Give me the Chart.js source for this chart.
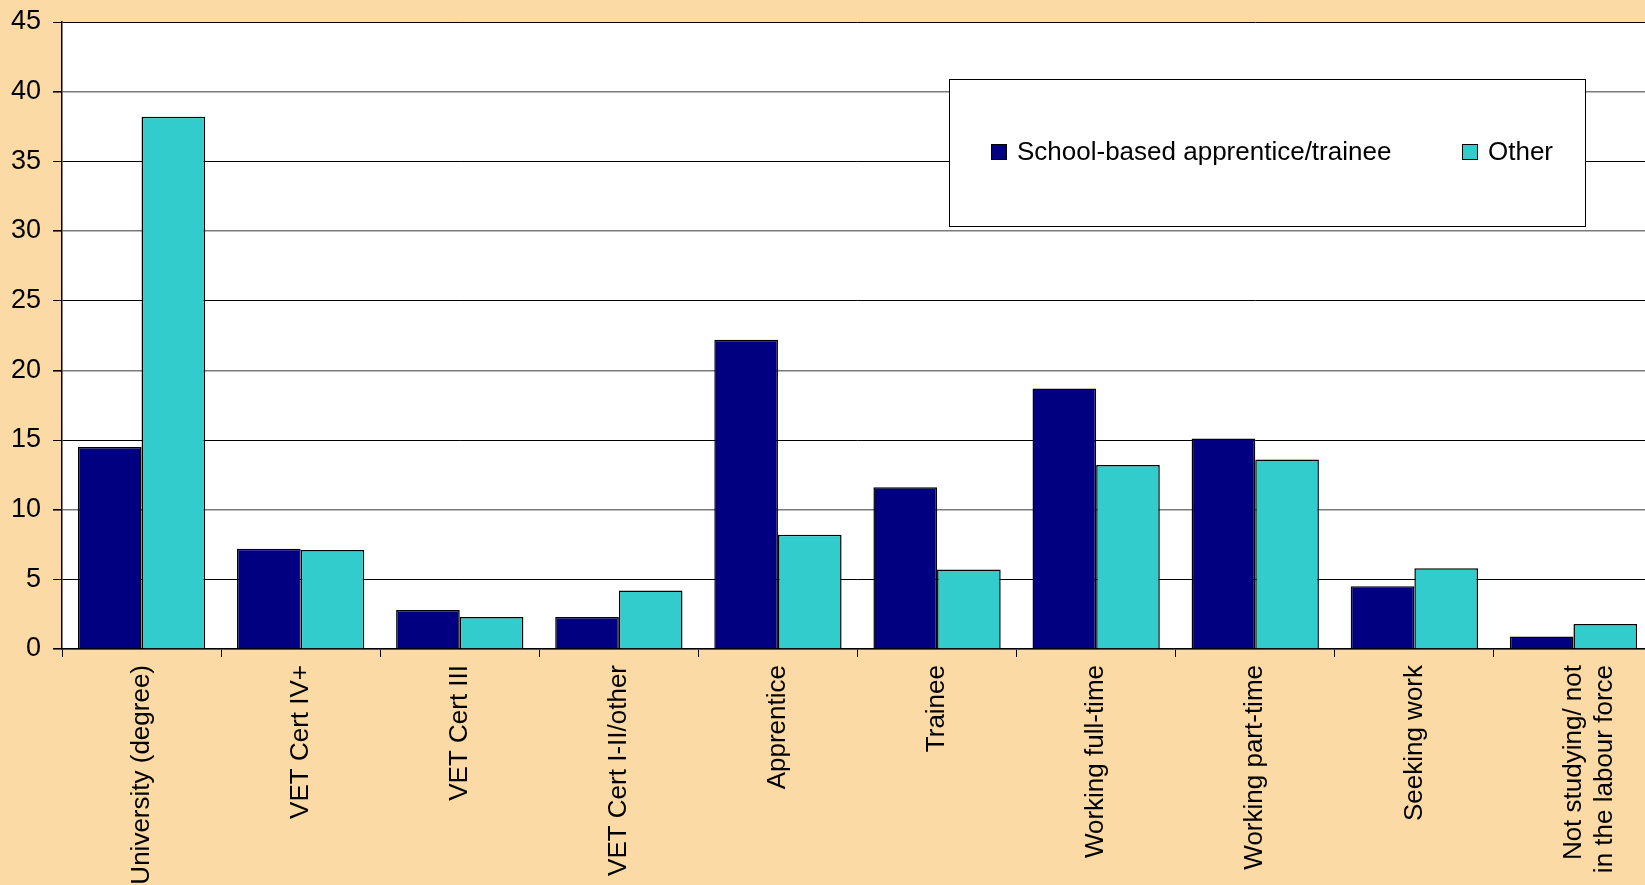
<!DOCTYPE html>
<html>
<head>
<meta charset="utf-8">
<script src="https://cdn.jsdelivr.net/npm/chart.js@4"></script>
<style>
  html, body { margin: 0; padding: 0; overflow: hidden; background: #FCDAA6; }
  #wrap { width: 1660px; height: 885px; }
</style>
</head>
<body>
<div id="wrap"><canvas id="chartCanvas" width="1660" height="885"></canvas></div>
<script>
var categorias = [
  "University (degree)", "VET Cert IV+", "VET Cert III", "VET Cert I-II/other",
  "Apprentice", "Trainee", "Working full-time", "Working part-time",
  "Seeking work", ["Not studying/ not", "in the labour force"]
];
var escuela = [14.5, 7.2, 2.8, 2.3, 22.2, 11.6, 18.7, 15.1, 4.5, 0.9];
var otros = [38.2, 7.1, 2.3, 4.2, 8.2, 5.7, 13.2, 13.6, 5.8, 1.8];
var nombresSeries = ["School-based apprentice/trainee", "Other"];
var ticksY = [0, 5, 10, 15, 20, 25, 30, 35, 40, 45];

var fuente = "'Liberation Sans', Arial, sans-serif";

// leyenda dentro del area, caja blanca con borde
var leyendaCaja = {
  id: "leyendaCaja",
  afterDatasetsDraw: function(chart) {
    var c = chart.ctx;
    c.save();
    c.fillStyle = "#fff";
    c.fillRect(949, 79, 636, 147);
    c.strokeStyle = "#000";
    c.lineWidth = 1;
    c.strokeRect(949.5, 79.5, 636, 147);
    c.font = "26px " + fuente;
    c.textBaseline = "middle";
    c.fillStyle = "#000";
    var posX = [991, 1462];
    chart.data.datasets.forEach(function(ds, i) {
      var x = posX[i];
      c.fillStyle = ds.backgroundColor;
      c.fillRect(x, 144, 16, 16);
      c.strokeStyle = "#000";
      c.strokeRect(x + 0.5, 144.5, 15, 15);
      c.fillStyle = "#000";
      c.fillText(ds.label, x + 26, 153);
    });
    c.restore();
  }
};

var fondoArea = {
  id: "fondoArea",
  beforeDraw: function(chart) {
    var a = chart.chartArea;
    var c = chart.ctx;
    c.save();
    c.fillStyle = "#fff";
    c.fillRect(a.left, a.top, a.right - a.left, a.bottom - a.top);
    c.restore();
  }
};

var ctx = document.getElementById("chartCanvas").getContext("2d");
var myChart = new Chart(ctx, {
  type: "bar",
  data: {
    labels: categorias,
    datasets: [
      {
        label: nombresSeries[0],
        data: escuela,
        backgroundColor: "#000080",
        borderColor: "#000",
        borderWidth: 1.5
      },
      {
        label: nombresSeries[1],
        data: otros,
        backgroundColor: "#33CCCC",
        borderColor: "#000",
        borderWidth: 1.5
      }
    ]
  },
  options: {
    responsive: false,
    animation: false,
    layout: { padding: { top: 22, left: 0, right: 7, bottom: 0 } },
    datasets: {
      bar: { categoryPercentage: 0.8, barPercentage: 1.0 }
    },
    plugins: {
      legend: { display: false },
      tooltip: { enabled: false }
    },
    scales: {
      x: {
        offset: true,
        grid: {
          offset: true,
          drawOnChartArea: false,
          drawTicks: true,
          tickLength: 8,
          tickColor: "#000"
        },
        border: { color: "#000", width: 1.5 },
        ticks: {
          color: "#000",
          font: { family: fuente, size: 26 },
          minRotation: 90,
          maxRotation: 90,
          padding: 8,
          autoSkip: false
        },
        afterFit: function(scale) {
          scale.height = 236;
          scale.paddingLeft = 0;
          scale.paddingRight = 0;
        }
      },
      y: {
        min: 0,
        max: 45,
        afterBuildTicks: function(scale) {
          scale.ticks = ticksY.map(function(v) { return { value: v }; });
        },
        grid: {
          color: function(c) { return c.tick && c.tick.value % 10 === 0 ? "#7a7a7a" : "#000"; },
          lineWidth: function(c) { return c.tick && c.tick.value % 10 === 0 ? 1.6 : 1; },
          tickLength: 9,
          tickColor: "#000"
        },
        border: { color: "#000", width: 1.5 },
        ticks: {
          color: "#000",
          font: { family: fuente, size: 27 },
          padding: 12
        },
        afterFit: function(scale) {
          scale.width = 62;
          scale.paddingTop = 0;
          scale.paddingBottom = 0;
        }
      }
    }
  },
  plugins: [fondoArea, leyendaCaja]
});
</script>
</body>
</html>
